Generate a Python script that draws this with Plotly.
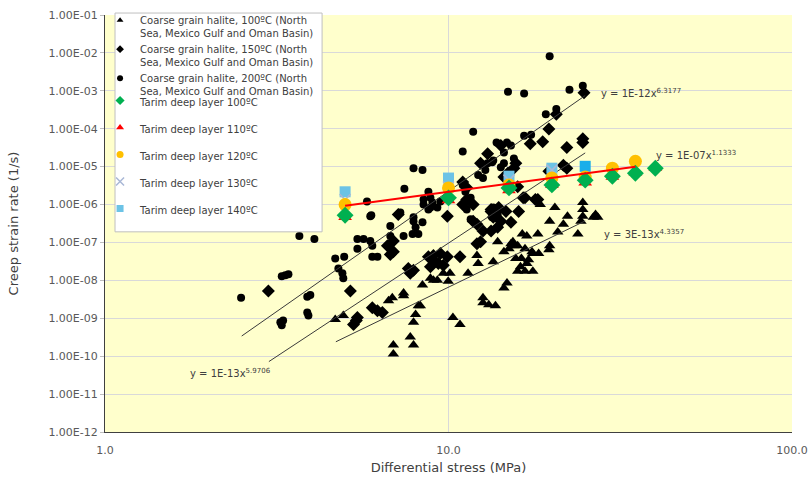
import math
import plotly.graph_objects as go

# ---------------- data ----------------
# Coarse grain halite, 100 ºC (triangles)
h100_x = [24.6, 24.6, 24.6, 24.3, 26.4, 27.2, 26.8, 22.2, 21.6, 23.8, 20.4, 19.7, 18.5, 18.2, 16.9,
          19.7, 19.6, 18.3, 17.6, 17.1, 16.3, 15.7, 16.7, 15.5, 15.0, 14.5, 15.4, 16.9, 17.6, 16.7,
          15.9, 14.8, 14.5, 13.5, 12.1, 12.2, 11.4, 13.9, 12.6, 12.6, 13.1, 13.7, 10.3, 10.8, 10.1,
          9.98, 9.66, 9.28, 8.86, 8.40, 7.40, 8.17, 8.02, 7.91, 7.74, 7.91, 6.91, 6.91, 4.68, 4.94,
          6.69, 6.86, 7.40, 15.2, 15.9, 17.5, 16.2, 9.04, 8.28, 20.8, 16.4]
h100_y = [1.13e-6, 7.4e-7, 4.9e-7, 3.6e-7, 4.6e-7, 4.6e-7, 5.5e-7, 4.9e-7, 3.0e-7, 1.67e-7, 8.4e-7,
          3.6e-7, 1.0e-6, 1.67e-7, 1.48e-7, 8.2e-8, 6.4e-8, 5.1e-8, 5.1e-8, 3.5e-8, 3.8e-8, 3.8e-8,
          6.8e-8, 8.2e-8, 6.8e-8, 5.7e-8, 1.04e-7, 2.8e-8, 1.73e-8, 1.73e-8, 1.73e-8, 8.5e-9, 6.3e-9,
          3.1e-8, 4.5e-8, 2.8e-8, 1.54e-8, 1.04e-7, 3.46e-9, 2.56e-9, 2.28e-9, 2.15e-9, 1.05e-9,
          6.9e-10, 1.54e-8, 9.5e-9, 1.54e-8, 1.01e-8, 1.14e-8, 7.5e-9, 3.9e-9, 2.15e-9, 1.25e-9,
          7.8e-10, 3.2e-10, 1.97e-10, 1.97e-10, 1.15e-10, 9.3e-10, 1.18e-9, 2.9e-9, 3.46e-9, 4.66e-9,
          9.2e-8, 8.2e-8, 5.7e-8, 2.3e-8, 1.01e-8, 2.15e-9, 1.9e-7, 1.67e-7]

# Coarse grain halite, 150 ºC (diamonds)
h150_x = [24.8, 20.6, 19.6, 17.3, 18.8, 22.1, 24.6, 24.6, 21.6, 22.1, 19.6, 18.2, 16.5, 16.0, 14.5,
          14.9, 15.5, 11.0, 11.3, 9.92, 7.14, 11.8, 11.8, 13.3, 14.2, 13.0, 12.4, 15.7, 11.3, 12.1,
          13.3, 14.0, 14.7, 13.5, 14.2, 15.2, 16.7, 17.9, 13.3, 12.6, 13.9, 12.4, 12.1, 10.8, 9.92,
          9.47, 9.04, 8.86, 9.66, 8.74, 9.04, 9.34, 7.91, 7.74, 7.64, 2.99, 5.18, 5.39, 5.29, 5.43,
          6.77, 6.91, 6.00, 6.21, 6.42, 6.64, 6.91, 11.0, 15.9]
h150_y = [8.9e-4, 2.4e-4, 9.8e-5, 4.0e-5, 4.5e-5, 3.2e-5, 5.4e-5, 4.3e-5, 1.09e-5, 9.1e-6, 7.6e-6,
          1.35e-6, 1.52e-6, 6.6e-7, 5.3e-6, 6.75e-6, 9.1e-6, 3.95e-6, 2.76e-6, 4.9e-7, 5.5e-7, 3.6e-7,
          1.0e-6, 7.4e-7, 3.6e-5, 2.2e-5, 1.22e-5, 1.22e-5, 1.35e-6, 3.0e-7, 6.6e-7, 8.4e-7, 6.6e-7,
          4.6e-7, 3.6e-7, 3.4e-7, 1.52e-6, 1.35e-6, 2.0e-7, 2.0e-7, 2.5e-7, 1.04e-7, 9.2e-8, 4.2e-8,
          4.2e-8, 5.1e-8, 3.3e-8, 2.3e-8, 2.5e-8, 4.2e-8, 4.5e-8, 2.8e-8, 1.84e-8, 1.54e-8, 2.07e-8,
          5.25e-9, 5.25e-9, 8.8e-10, 6.9e-10, 1.05e-9, 4.8e-8, 5.7e-8, 1.9e-9, 1.59e-9, 1.41e-9,
          8.2e-8, 1.1e-7, 1.0e-6, 2.93e-6]

# Coarse grain halite, 200 ºC (circles)
h200_x = [19.7, 14.9, 16.6, 22.5, 24.6, 19.2, 20.6, 11.8, 16.6, 17.4, 13.8, 14.8, 11.0, 14.5, 15.2,
          13.0, 14.5, 13.4, 14.2, 12.8, 12.6, 12.2, 7.91, 8.40, 7.44, 5.79, 5.96, 8.74, 8.86, 11.0,
          11.2, 11.6, 8.46, 8.74, 7.91, 8.40, 8.46, 8.86, 9.28, 7.91, 8.02, 7.40, 7.86, 8.17, 7.24,
          6.77, 6.77, 5.43, 5.66, 5.92, 6.00, 5.43, 6.00, 6.21, 5.92, 4.68, 4.97, 4.78, 4.91, 4.94,
          3.68, 4.07, 2.49, 3.27, 3.35, 3.42, 3.88, 3.96, 3.91, 3.88, 3.24, 3.30, 3.27, 8.98, 9.47,
          11.3, 13.5, 15.5, 13.5, 13.4, 13.9, 11.6]
h200_y = [8.2e-3, 9.5e-4, 8.5e-4, 1.07e-3, 1.36e-3, 2.4e-4, 3.3e-4, 8.3e-5, 6.5e-5, 6.9e-5, 4.3e-5,
          4.3e-5, 2.5e-5, 2.36e-5, 3.6e-5, 1.22e-5, 1.22e-5, 1.3e-5, 9.7e-6, 8.1e-6, 5.0e-6, 6.0e-6,
          9.1e-6, 8.1e-6, 2.6e-6, 1.2e-6, 5.2e-7, 2.17e-6, 1.52e-6, 3.3e-6, 2.17e-6, 1.52e-6, 1.0e-6,
          7.4e-7, 4.6e-7, 3.4e-7, 1.35e-6, 8.4e-7, 8.4e-7, 3.6e-7, 2.5e-7, 1.48e-7, 1.67e-7, 1.67e-7,
          6.2e-7, 2.7e-7, 1.48e-7, 1.24e-7, 1.24e-7, 1.1e-7, 8.2e-8, 6.8e-8, 4.2e-8, 4.2e-8, 4.9e-7,
          3.8e-8, 4.2e-8, 2.07e-8, 1.54e-8, 1.14e-8, 1.48e-7, 1.24e-7, 3.46e-9, 1.28e-8, 1.36e-8,
          1.45e-8, 3.67e-9, 4.1e-9, 1.18e-9, 1.41e-9, 7.8e-10, 8.8e-10, 6.5e-10, 1.13e-6, 1.2e-6,
          7.4e-7, 1.46e-5, 1.65e-5, 8.4e-7, 4.6e-7, 5.5e-7, 4.1e-7]

# Tarim deep layer series
t100_x = [5, 10, 15, 20, 25, 30, 35, 40]
t100_y = [5.2e-7, 1.5e-6, 2.75e-6, 3.3e-6, 4.4e-6, 5.6e-6, 6.7e-6, 9.1e-6]
t110_x = [5, 10, 15, 20, 25, 30, 35, 40]
t110_y = [4.7e-7, 1.3e-6, 2.4e-6, 3.3e-6, 3.8e-6, 5.4e-6, 7.0e-6, 9.4e-6]
t120_x = [5, 10, 15, 20, 25, 30, 35]
t120_y = [1.0e-6, 2.75e-6, 3.3e-6, 5.0e-6, 5.3e-6, 9.1e-6, 1.38e-5]
t130_x = [5, 10, 15, 20]
t130_y = [1.35e-6, 2.9e-6, 4.4e-6, 8.1e-6]
t140_x = [5, 10, 15, 20, 25]
t140_y = [2.17e-6, 5.0e-6, 5.6e-6, 9.1e-6, 1.02e-5]
t140_colors = ["#6CC3E6", "#6CC3E6", "#6CC3E6", "#6CC3E6", "#1AAEEA"]

# Power-law trend lines (end points)
fit200_x = [2.5, 25.0]
fit200_y = [3.4e-10, 7.5e-4]
fit150_x = [3.0, 25.0]
fit150_y = [7.2e-11, 2.3e-5]
fit100_x = [4.7, 25.0]
fit100_y = [2.4e-10, 3.7e-7]
fitT_x = [5.0, 35.0]
fitT_y = [9.3e-7, 1.0e-5]

y_tick_vals = [1e-12, 1e-11, 1e-10, 1e-9, 1e-8, 1e-7, 1e-6, 1e-5, 1e-4, 1e-3, 1e-2, 1e-1]
y_tick_text = ["1.00E-12", "1.00E-11", "1.00E-10", "1.00E-09", "1.00E-08", "1.00E-07",
               "1.00E-06", "1.00E-05", "1.00E-04", "1.00E-03", "1.00E-02", "1.00E-01"]
x_tick_vals = [1, 10, 100]
x_tick_text = ["1.0", "10.0", "100.0"]

eq_texts = ["y = 1E-12x<sup>6.3177</sup>", "y = 1E-07x<sup>1.1333</sup>",
            "y = 3E-13x<sup>4.3357</sup>", "y = 1E-13x<sup>5.9706</sup>"]
eq_x = [27.4, 39.6, 27.9, 1.75]
eq_y = [9.0e-4, 2.0e-5, 1.66e-7, 3.5e-11]

FONT = "DejaVu Sans"
fig = go.Figure()

halite = [
    (h100_x, h100_y, "Coarse grain halite, 100ºC (North<br>Sea, Mexico Gulf and Oman Basin)",
     "triangle-up", "black", 10, 6, 1, "h100"),
    (h150_x, h150_y, "Coarse grain halite, 150ºC (North<br>Sea, Mexico Gulf and Oman Basin)",
     "diamond", "black", 10, 6, 2, "h150"),
    (h200_x, h200_y, "Coarse grain halite, 200ºC (North<br>Sea, Mexico Gulf and Oman Basin)",
     "circle", "black", 8, 6, 3, "h200"),
]
tarim = [
    (t140_x, t140_y, "Tarim deep layer 140ºC", "square", t140_colors, 11, 7, 8, "t140"),
    (t130_x, t130_y, "Tarim deep layer 130ºC", "x-thin", "#A9B8D6", 11, 8, 7, "t130"),
    (t120_x, t120_y, "Tarim deep layer 120ºC", "circle", "#FFC000", 13, 7, 6, "t120"),
    (t110_x, t110_y, "Tarim deep layer 110ºC", "triangle-up", "#FF0000", 12, 7, 5, "t110"),
    (t100_x, t100_y, "Tarim deep layer 100ºC", "diamond", "#00B050", 13, 7, 4, "t100"),
]

def add_series(s, legend_id):
    x, y, name, sym, col, size, lsize, rank, grp = s
    lw = 1.5 if sym == "x-thin" else 0
    lcol = col[0] if isinstance(col, list) else col
    fig.add_trace(go.Scatter(x=x, y=y, mode="markers", name=name, showlegend=False,
                             legendgroup=grp, legend=legend_id,
                             marker=dict(symbol=sym, color=col, size=size,
                                         line=dict(width=lw, color=lcol))))
    # small legend proxy (no data drawn)
    fig.add_trace(go.Scatter(x=[None], y=[None], mode="markers", name=name, legendrank=rank,
                             legendgroup=grp, showlegend=True, legend=legend_id,
                             marker=dict(symbol=sym, color=lcol, size=lsize,
                                         line=dict(width=lw, color=lcol))))

for s in halite:
    add_series(s, "legend")

for fx, fy in [(fit200_x, fit200_y), (fit150_x, fit150_y), (fit100_x, fit100_y)]:
    fig.add_trace(go.Scatter(x=fx, y=fy, mode="lines", line=dict(color="#3a3a3a", width=1),
                             showlegend=False, hoverinfo="skip"))

for s in tarim:
    add_series(s, "legend2")

fig.add_trace(go.Scatter(x=fitT_x, y=fitT_y, mode="lines", line=dict(color="#FF0000", width=2),
                         showlegend=False, hoverinfo="skip"))

for t, ex, ey in zip(eq_texts, eq_x, eq_y):
    fig.add_annotation(x=math.log10(ex), y=math.log10(ey), text=t, showarrow=False,
                       xanchor="left", yanchor="middle",
                       font=dict(family=FONT, size=10, color="#404040"))

# white legend box behind the two legend blocks
fig.add_shape(type="rect", xref="paper", yref="paper", x0=0.0146, x1=0.316, y0=0.48, y1=1.0047,
              fillcolor="white", line=dict(color="#BFBFBF", width=1), layer="above")

legend_font = dict(family=FONT, size=10, color="#404040")
fig.update_layout(
    width=809, height=482,
    margin=dict(l=105, r=17, t=7, b=50),
    paper_bgcolor="white",
    plot_bgcolor="#FFFFCC",
    font=dict(family=FONT, size=11, color="#595959"),
    showlegend=True,
    legend=dict(x=-0.0072, y=1.0188, xanchor="left", yanchor="top",
                bgcolor="rgba(0,0,0,0)", borderwidth=0, font=legend_font,
                valign="top", tracegroupgap=0, itemwidth=30),
    legend2=dict(x=-0.0072, y=0.826, xanchor="left", yanchor="top",
                 bgcolor="rgba(0,0,0,0)", borderwidth=0, font=legend_font,
                 valign="top", tracegroupgap=8, itemwidth=30),
)
fig.update_xaxes(type="log", range=[0, 2], tickvals=x_tick_vals, ticktext=x_tick_text,
                 showgrid=True, gridcolor="#D9D9D9", gridwidth=1, automargin=False,
                 showline=True, linecolor="#404040", linewidth=1, mirror=False,
                 ticks="outside", ticklen=8, tickcolor="rgba(0,0,0,0)", zeroline=False,
                 title=dict(text="Differential stress (MPa)",
                            font=dict(family=FONT, size=13, color="#404040"), standoff=6))
fig.update_yaxes(type="log", range=[-12, -1], tickvals=y_tick_vals, ticktext=y_tick_text,
                 showgrid=True, gridcolor="#D9D9D9", gridwidth=1, automargin=False,
                 showline=True, linecolor="#404040", linewidth=1,
                 ticks="outside", ticklen=4, tickcolor="#BFBFBF", zeroline=False,
                 title=dict(text="Creep strain rate (1/s)",
                            font=dict(family=FONT, size=13, color="#404040"), standoff=26))

fig.write_html("out.html", config={"displayModeBar": False},
               post_script="document.body.style.margin='0';")
